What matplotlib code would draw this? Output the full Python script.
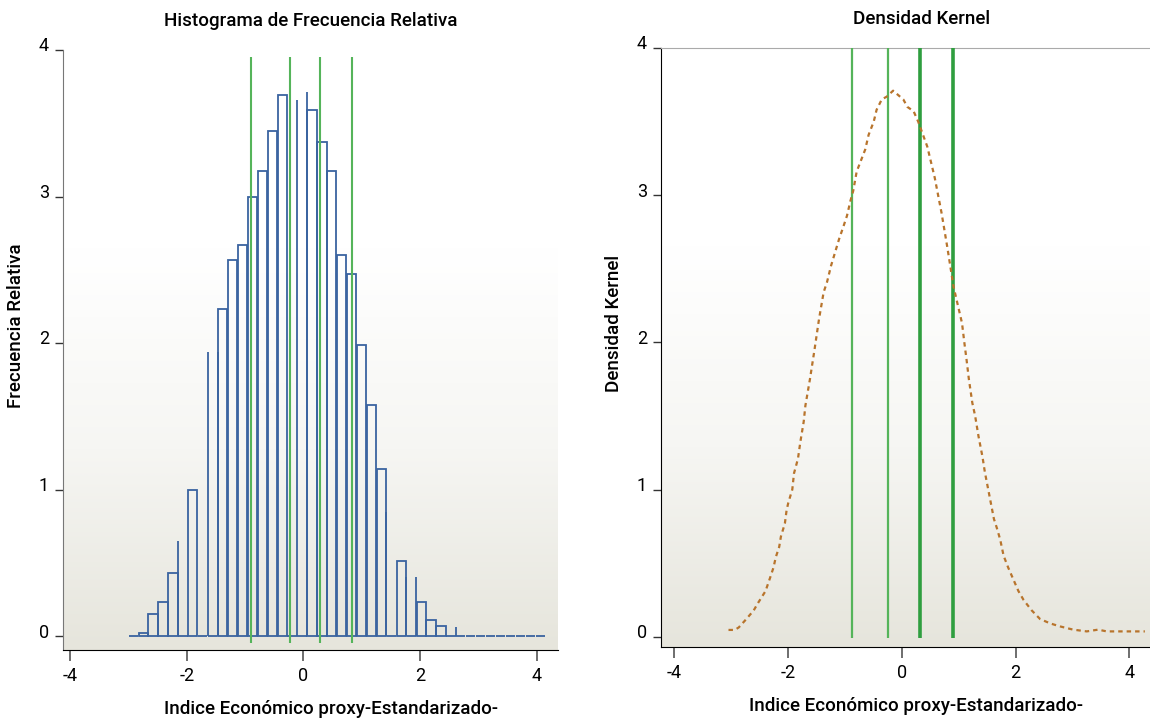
import numpy as np
import matplotlib
matplotlib.use("Agg")
import matplotlib.pyplot as plt
import matplotlib.transforms as mtransforms
from matplotlib.colors import LinearSegmentedColormap

plt.rcParams['font.family'] = ['Roboto', 'DejaVu Sans']

# histogram: bins of equal width starting at -3.0 (relative frequency)
bin_start = -3.0
bin_width = 0.17
freq = [0, 0.02, 0.15, 0.23, 0.43, 0, 1.00, 0, 0, 2.23,
        2.57, 2.67, 3.00, 3.175, 3.45, 3.69, 0, 0, 3.59, 3.37,
        3.175, 2.60, 2.47, 1.99, 1.58, 1.14, 0, 0.51, 0, 0.23,
        0.11, 0.07, 0, 0, 0, 0, 0, 0, 0, 0, 0, 0]
# bars drawn only as single edges
spike_x = [-2.15, -1.64, -1.47, -0.11, 0.06, 1.42, 1.76, 1.93, 2.61]
spike_h = [0.65, 1.94, 1.94, 3.66, 3.715, 0.85, 0.40, 0.40, 0.06]

# reference lines
hist_vlines = [-0.899, -0.236, 0.277, 0.836]
kde_vlines = [-0.877, -0.232, 0.323, 0.895]
kde_vline_w = [1.6, 1.6, 2.6, 2.6]
kde_vline_c = ['#55b45a', '#55b45a', '#2f9e3f', '#2f9e3f']

# kernel density
kde_x = [-3.04, -2.93, -2.86, -2.75, -2.60, -2.52, -2.39, -2.31, -2.25, -2.21,
         -2.15, -2.12, -2.05, -2.02, -1.99, -1.92, -1.89, -1.82, -1.78, -1.72,
         -1.69, -1.61, -1.53, -1.45, -1.37, -1.31, -1.24, -1.17, -1.10, -1.02,
         -0.96, -0.90, -0.85, -0.79, -0.70, -0.64, -0.58, -0.49, -0.44, -0.35,
         -0.26, -0.15, -0.06, 0.03, 0.10, 0.21, 0.29, 0.45, 0.58, 0.70,
         0.80, 0.91, 1.00, 1.06, 1.10, 1.14, 1.18, 1.24, 1.29, 1.35,
         1.38, 1.42, 1.46, 1.51, 1.56, 1.62, 1.67, 1.73, 1.79, 1.87,
         1.96, 2.05, 2.14, 2.28, 2.43, 2.61, 2.78, 3.01, 3.25, 3.45,
         3.60, 4.27]
kde_y = [0.046, 0.046, 0.063, 0.11, 0.177, 0.23, 0.31, 0.40, 0.47, 0.54,
         0.61, 0.68, 0.77, 0.86, 0.91, 1.00, 1.11, 1.21, 1.32, 1.46,
         1.57, 1.75, 1.95, 2.16, 2.34, 2.41, 2.52, 2.61, 2.70, 2.79,
         2.86, 2.96, 3.03, 3.16, 3.25, 3.31, 3.41, 3.50, 3.58, 3.65,
         3.67, 3.71, 3.68, 3.65, 3.60, 3.57, 3.50, 3.33, 3.12, 2.88,
         2.65, 2.38, 2.23, 2.13, 2.00, 1.88, 1.75, 1.59, 1.50, 1.36,
         1.30, 1.22, 1.12, 1.02, 0.92, 0.80, 0.74, 0.66, 0.55, 0.47,
         0.39, 0.31, 0.25, 0.18, 0.12, 0.09, 0.07, 0.048, 0.036, 0.048,
         0.036, 0.036]

xlabel = 'Indice Económico proxy-Estandarizado-'
blue = '#3a63a0'

fig = plt.figure(figsize=(11.5, 7.18), dpi=100)
W, H = 1150, 718
ax1 = fig.add_axes([63 / W, (H - 650) / H, (558 - 63) / W, 600 / H])
ax2 = fig.add_axes([661 / W, (H - 647) / H, (1150 - 661) / W, 599 / H])

bg = LinearSegmentedColormap.from_list('bg', ['#ffffff', '#ffffff', '#f6f6f3', '#e6e5dc'])
grad = np.linspace(0, 1, 256).reshape(-1, 1)


def style(ax, title, ylabel, xlim, ylim, title_x, xlabel_x):
    ax.imshow(grad, extent=[0, 1, 0, 1], transform=ax.transAxes, aspect='auto',
              cmap=bg, zorder=0, interpolation='bicubic')
    ax.set_xlim(*xlim)
    ax.set_ylim(*ylim)
    ax.set_xticks([-4, -2, 0, 2, 4])
    ax.set_xticklabels(['-4', '-2', '0', '2', '4'])
    ax.set_yticks([0, 1, 2, 3, 4])
    ax.tick_params(axis='x', length=8, width=1.2, colors='#555555', labelcolor='black',
                   labelsize=13, pad=4)
    ax.tick_params(axis='y', length=6, width=1.0, colors='#333333', labelcolor='black',
                   labelsize=13, pad=4)
    shift = mtransforms.ScaledTranslation(0, 4 / 72, fig.dpi_scale_trans)
    for lab in ax.get_yticklabels():
        lab.set_transform(lab.get_transform() + shift)
    ax.spines['right'].set_visible(False)
    ax.set_title(title, fontsize=13.5, fontweight='medium', pad=17, x=title_x)
    ax.set_xlabel(xlabel, fontsize=13.5, fontweight='medium', labelpad=11, x=xlabel_x)
    ax.set_ylabel(ylabel, fontsize=13.5, fontweight='medium', labelpad=10, y=0.54)


style(ax1, 'Histograma de Frecuencia Relativa', 'Frecuencia Relativa',
      (-4.118, 4.358), (-0.095, 4.0), 0.5, 0.541)
ax1.spines['top'].set_visible(False)
ax1.spines['left'].set_color('#777777')

lefts = bin_start + bin_width * np.arange(len(freq))
ax1.bar(lefts + 0.006, freq, width=bin_width - 0.012, align='edge', fill=False,
        edgecolor=blue, linewidth=1.3, zorder=3)
ax1.vlines(spike_x, 0, spike_h, color=blue, linewidth=1.3, zorder=3)
ax1.vlines(hist_vlines, -0.05, 3.95, color='#55b45a', linewidth=1.5, zorder=4)

style(ax2, 'Densidad Kernel', 'Densidad Kernel', (-4.225, 4.36), (-0.07, 4.0),
      0.532, 0.522)
ax2.spines['top'].set_color('#aaaaaa')
ax2.vlines(kde_vlines, -0.01, 4.0, colors=kde_vline_c, linewidths=kde_vline_w, zorder=3)
ax2.plot(kde_x, kde_y, color='#b8742c', linewidth=1.6, linestyle=(0, (2.0, 1.8)), zorder=4)

fig.savefig('out.png', dpi=100)
